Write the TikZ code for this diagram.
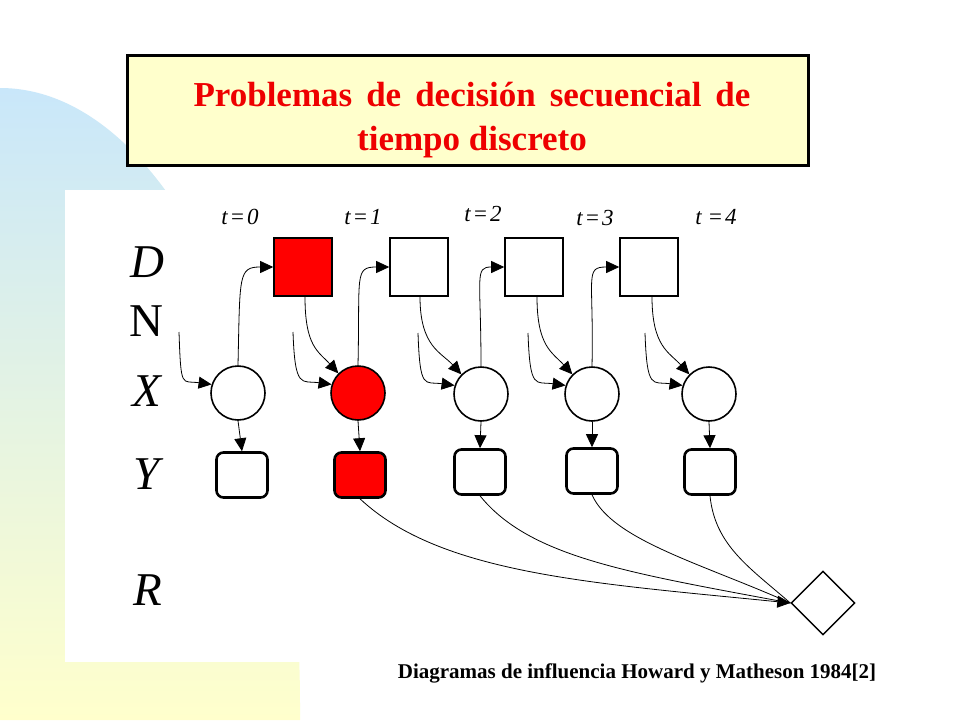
\documentclass[tikz,border=0pt]{standalone}
\usepackage{fontspec}
\setmainfont{Liberation Serif}
\usetikzlibrary{arrows.meta,shapes.geometric}
\definecolor{bgblue}{HTML}{C9E7FA}
\definecolor{bgyellow}{HTML}{FFFFCC}
\definecolor{titlered}{HTML}{EE0000}
\definecolor{nodered}{HTML}{FF0000}
\begin{document}
\begin{tikzpicture}[x=1pt,y=-1pt,
  dec/.style={draw, line width=1.6pt, minimum size=58pt, inner sep=0pt},
  chance/.style={circle, draw, line width=1.6pt, minimum size=54pt, inner sep=0pt},
  obs/.style={draw, rounded corners=7pt, line width=2.6pt, minimum width=51pt, minimum height=45pt, inner sep=0pt},
  util/.style={diamond, draw, line width=1.4pt, minimum width=64pt, minimum height=64pt, inner sep=0pt},
  conn/.style={line width=0.8pt, -{Triangle[length=13pt,width=12pt]}},
  plain/.style={line width=0.8pt},
  rowlab/.style={font=\fontsize{47}{47}\selectfont\itshape, inner sep=0pt},
  tlab/.style={font=\fontsize{23}{23}\selectfont\itshape, inner sep=0pt}]
\useasboundingbox (0,0) rectangle (960,720);
\fill[white] (0,0) rectangle (960,720);
% background
\shade[top color=bgblue, bottom color=bgyellow] (0,88) arc[start angle=90, end angle=0, x radius=300pt, y radius=618pt] -- (300,720) -- (0,720) -- cycle;
\fill[white] (65,190) rectangle (960,662);
% title
\draw[line width=3pt, fill=bgyellow] (127,55) rectangle (808,165);
\node[font=\fontsize{35}{44}\selectfont\bfseries, text=titlered, align=center] (title) at (472,120) {\spaceskip=14pt\relax Problemas de decisión secuencial de\\tiempo discreto};
% row labels
\node[rowlab] (lD) at (147,262) {D};
\node[rowlab, font=\fontsize{47}{47}\selectfont\upshape] (lN) at (146,321) {N};
\node[rowlab] (lX) at (147,391) {X};
\node[rowlab] (lY) at (147,474) {Y};
\node[rowlab] (lR) at (148,590) {R};
% time labels
\node[tlab] (t0) at (240,217) {t\kern2pt=\kern2pt0};
\node[tlab] (t1) at (363,217) {t\kern2pt=\kern2pt1};
\node[tlab] (t2) at (483,214) {t\kern2pt=\kern2pt2};
\node[tlab] (t3) at (595,218) {t\kern2pt=\kern2pt3};
\node[tlab] (t4) at (716,217) {t =\kern2pt4};
% decision nodes
\node[dec, fill=nodered] (D1) at (303,267) {};
\node[dec, fill=white] (D2) at (419,267) {};
\node[dec, fill=white] (D3) at (534,267) {};
\node[dec, fill=white] (D4) at (649,267) {};
% chance nodes
\node[chance, fill=white] (X0) at (238,393) {};
\node[chance, fill=nodered] (X1) at (358,393) {};
\node[chance, fill=white] (X2) at (481,394) {};
\node[chance, fill=white] (X3) at (592,394) {};
\node[chance, fill=white] (X4) at (709,394) {};
% observation nodes
\node[obs, fill=white] (Y0) at (242,475) {};
\node[obs, fill=nodered] (Y1) at (360,475) {};
\node[obs, fill=white] (Y2) at (480,472) {};
\node[obs, fill=white] (Y3) at (592,471) {};
\node[obs, fill=white] (Y4) at (710,472) {};
% utility
\node[util, fill=white] (R) at (823,603) {};
% free input ends
\coordinate (in0) at (179,332);
\coordinate (in1) at (293,332);
\coordinate (in2) at (418,333);
\coordinate (in3) at (528,333);
\coordinate (in4) at (645,333);
% X -> D
\draw[conn] (X0.north) .. controls +(2,-90) and +(-35,0) .. (D1.west);
\draw[conn] (X1.north) .. controls +(2,-90) and +(-35,0) .. (D2.west);
\draw[conn] (X2.north) .. controls +(0,-90) and +(-30,0) .. (D3.west);
\draw[conn] (X3.north) .. controls +(2,-90) and +(-35,0) .. (D4.west);
% D -> X
\draw[conn] ([xshift=2pt]D1.south) .. controls +(0,50) and +(-20,-22) .. (X1.135);
\draw[conn] ([xshift=1pt]D2.south) .. controls +(0,50) and +(-20,-22) .. (X2.135);
\draw[conn] ([xshift=3pt]D3.south) .. controls +(0,50) and +(-20,-22) .. (X3.135);
\draw[conn] ([xshift=3pt]D4.south) .. controls +(0,50) and +(-20,-22) .. (X4.135);
% inputs
\draw[conn] (in0) .. controls +(2,58) and +(-30,-4) .. (X0.162);
\draw[conn] (in1) .. controls +(2,58) and +(-30,-4) .. (X1.162);
\draw[conn] (in2) .. controls +(2,58) and +(-30,-4) .. (X2.162);
\draw[conn] (in3) .. controls +(2,58) and +(-30,-4) .. (X3.162);
\draw[conn] (in4) .. controls +(2,58) and +(-30,-4) .. (X4.162);
% X -> Y
\draw[conn] (X0.south) -- (Y0.north);
\draw[conn] (X1.south) -- (Y1.north);
\draw[conn] (X2.south) -- (Y2.north);
\draw[conn] (X3.south) -- (Y3.north);
\draw[conn] (X4.south) -- (Y4.north);
% Y -> R
\draw[plain] (Y2.south) .. controls +(50,62) and +(-160,-30) .. (R.west);
\draw[plain] (Y3.south) .. controls +(20,45) and +(-90,-40) .. (R.west);
\draw[plain] (Y4.south) .. controls +(5,50) and +(-40,-35) .. (R.west);
\draw[conn] (Y1.south) .. controls +(80,75) and +(-200,-20) .. (R.west);
% caption
\node[font=\fontsize{21}{21}\selectfont\bfseries, inner sep=0pt] (cap) at (637,673) {Diagramas de influencia Howard y Matheson 1984[2]};
\end{tikzpicture}
\end{document}
